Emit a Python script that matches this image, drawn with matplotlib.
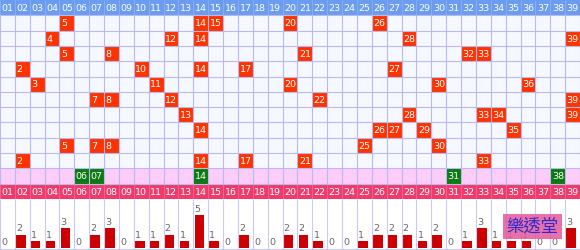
import matplotlib.pyplot as plt
import numpy as np

# draw history: 10 draws, five numbers each (1..39)
draws = [
    [5, 14, 15, 20, 26],
    [4, 12, 14, 28, 39],
    [5, 8, 21, 32, 33],
    [2, 10, 14, 17, 27],
    [3, 11, 20, 30, 36],
    [7, 8, 12, 22, 39],
    [13, 28, 33, 34, 39],
    [14, 26, 27, 29, 35],
    [5, 7, 8, 25, 30],
    [2, 14, 17, 21, 33],
]
# numbers highlighted in the pink row
picked = [6, 7, 14, 31, 38]
labels = ['%02d' % n for n in range(1, 40)]

# frequency of each number over the draws
counts = np.zeros(39, dtype=int)
for d in draws:
    for n in d:
        counts[n - 1] += 1

fs = 6.8
fam = 'DejaVu Sans'

fig = plt.figure(figsize=(5.8, 2.5), dpi=100)
ax = fig.add_axes([0, 51 / 250, 1, 199 / 250])
ax.set_xlim(0, 39)
ax.set_ylim(13, 0)
ax.axis('off')

n_rows = len(draws)
ax.axhspan(0, 1, color='#6b9cf0', lw=0)
ax.axhspan(1, 1 + n_rows, color='#f6f8ff', lw=0)
ax.axhspan(1 + n_rows, 2 + n_rows, color='#fccdf8', lw=0)
ax.axhspan(2 + n_rows, 3 + n_rows, color='#f03a6c', lw=0)

# grid lines
ax.vlines(np.arange(40), 1, 2 + n_rows, color='#b9b9ee', lw=0.8)
ax.hlines(np.arange(1, 3 + n_rows), 0, 39, color='#b9b9ee', lw=0.8)
ax.vlines(np.arange(40), 0, 1, color='#8ab2f5', lw=0.6)
ax.vlines(np.arange(40), 2 + n_rows, 3 + n_rows, color='#f76b93', lw=0.6)

# header numbers
for i, lab in enumerate(labels):
    ax.text(i + 0.1, 0.55, lab, color='white', fontsize=fs, family=fam,
            ha='left', va='center')
    ax.text(i + 0.1, 2.55 + n_rows, lab, color='white', fontsize=fs,
            family=fam, ha='left', va='center')

# drawn numbers
for r, d in enumerate(draws):
    xs = np.array(d) - 1
    ax.bar(xs, 1, bottom=r + 1, width=1, align='edge', color='#ff3300',
           lw=0)
    for n in d:
        ax.text(n - 1 + 0.1, r + 1.55, str(n), color='white', fontsize=fs,
                family=fam, ha='left', va='center')

ax.bar(np.array(picked) - 1, 1, bottom=1 + n_rows, width=1, align='edge',
       color='#0b7a10', lw=0)
for n in picked:
    ax.text(n - 1 + 0.1, n_rows + 1.55, '%02d' % n, color='white',
            fontsize=fs, family=fam, ha='left', va='center')

# frequency bars
bax = fig.add_axes([0, 0, 1, 51 / 250])
bax.set_xlim(0, 39)
bax.set_ylim(-0.3, 7.4)
bax.axis('off')
bax.vlines(np.arange(40), -0.3, 7.4, color='#c9c9f2', lw=0.8)
bax.axhline(-0.2, color='#c9c9f2', lw=0.8)
bax.bar(np.arange(39) + 0.08, counts, width=0.64, align='edge',
        color='#cc0000', lw=0)
for i, c in enumerate(counts):
    bax.text(i + 0.08, c + 0.2, str(c), color='#666666', fontsize=fs,
             family=fam, ha='left', va='bottom')

# watermark
bax.text(0.918, 0.46, '樂透堂', transform=bax.transAxes, ha='center',
         va='center', fontsize=12.5, color='#2b2bd0',
         family=['Noto Sans CJK TC', 'DejaVu Sans'],
         bbox=dict(boxstyle='square,pad=0.22', fc='#e4589a', ec='none',
                   alpha=0.85))

fig.savefig('out.png', dpi=100)
